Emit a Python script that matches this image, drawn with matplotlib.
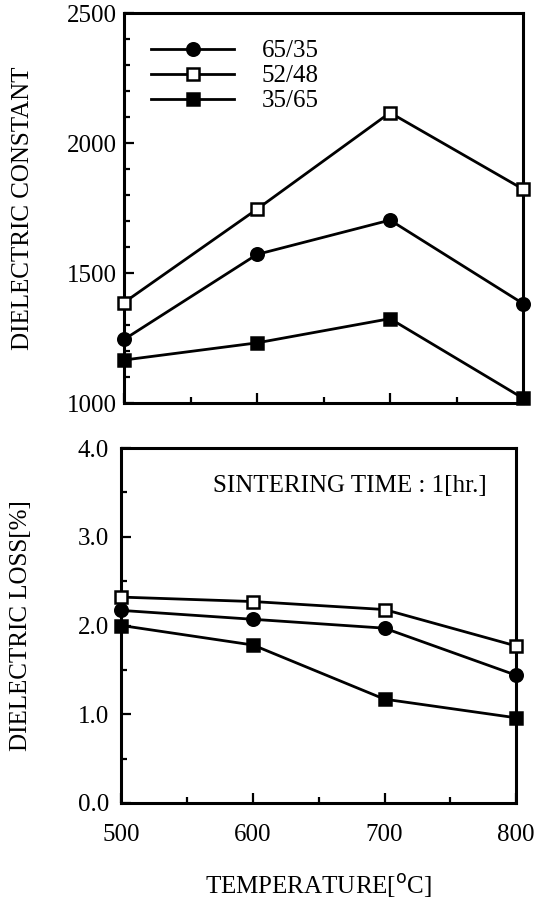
import matplotlib.pyplot as plt
from matplotlib.ticker import MultipleLocator

plt.rcParams['font.family'] = ['Liberation Serif', 'DejaVu Serif']

temps = [500, 600, 700, 800]
labels = ['65/35', '52/48', '35/65']

# dielectric constant
eps_6535 = [1245, 1572, 1704, 1383]
eps_5248 = [1387, 1746, 2117, 1823]
eps_3565 = [1166, 1232, 1325, 1019]

# dielectric loss [%]
loss_6535 = [2.17, 2.07, 1.97, 1.44]
loss_5248 = [2.32, 2.27, 2.18, 1.77]
loss_3565 = [2.00, 1.78, 1.17, 0.96]

styles = [dict(marker='o', mfc='black', ms=9),
          dict(marker='s', mfc='white', ms=8),
          dict(marker='s', mfc='black', ms=8.5)]

fig = plt.figure(figsize=(5.35, 9.0), dpi=100)
ax1 = fig.add_axes([0.2318, 0.552, 0.7458, 0.4335])
ax2 = fig.add_axes([0.2271, 0.1078, 0.7374, 0.3944])

for ys, lab, st in zip([eps_6535, eps_5248, eps_3565], labels, styles):
    ax1.plot(temps, ys, color='black', lw=2.0, mec='black', mew=1.8,
             clip_on=False, zorder=3, label=lab, **st)
for ys, st in zip([loss_6535, loss_5248, loss_3565], styles):
    ax2.plot(temps, ys, color='black', lw=2.0, mec='black', mew=1.8,
             clip_on=False, zorder=3, **st)

ax1.set_ylim(1000, 2500)
ax1.yaxis.set_major_locator(MultipleLocator(500))
ax1.yaxis.set_minor_locator(MultipleLocator(100))
ax2.set_ylim(0, 4)
ax2.yaxis.set_major_locator(MultipleLocator(1.0))
ax2.yaxis.set_minor_locator(MultipleLocator(0.5))
ax2.yaxis.set_major_formatter(lambda v, p: f'{v:.1f}')

for ax in (ax1, ax2):
    ax.set_xlim(500, 800)
    ax.xaxis.set_major_locator(MultipleLocator(100))
    ax.xaxis.set_minor_locator(MultipleLocator(50))
    ax.tick_params(which='both', direction='in', top=False, right=False,
                   labelsize=18, width=1.6)
    ax.tick_params(which='major', length=7)
    ax.tick_params(which='minor', length=4.5)
    for s in ax.spines.values():
        s.set_linewidth(2.2)

ax1.tick_params(axis='x', labelbottom=False)
ax1.tick_params(axis='y', pad=5)
ax2.tick_params(axis='y', pad=9)
ax2.tick_params(axis='x', pad=15)

ax1.set_ylabel('DIELECTRIC CONSTANT', fontsize=18)
ax2.set_ylabel('DIELECTRIC LOSS[%]', fontsize=18)
ax1.yaxis.set_label_coords(-0.225, 0.5)
ax2.yaxis.set_label_coords(-0.227, 0.5)
ax2.set_xlabel('TEMPERATURE[$^{\\rm o}$C]', fontsize=18, labelpad=19)

ax1.legend(loc='upper left', bbox_to_anchor=(0.025, 0.976), frameon=False,
           fontsize=18, handlelength=3.3, handletextpad=1.1,
           labelspacing=0.1, borderpad=0.2, numpoints=1)

ax2.text(0.233, 0.894, 'SINTERING TIME : 1[hr.]', transform=ax2.transAxes,
         fontsize=18, va='center', ha='left')

fig.savefig('out.png', dpi=100)
